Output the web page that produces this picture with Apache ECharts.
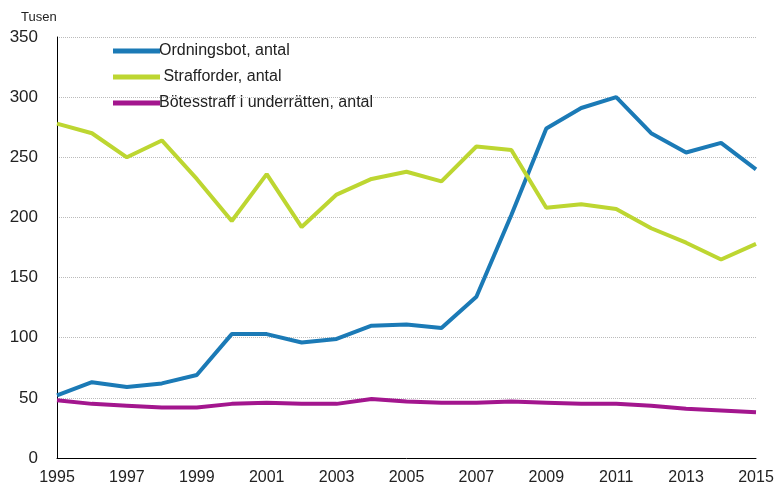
<!DOCTYPE html>
<html><head><meta charset="utf-8">
<script src="https://cdn.jsdelivr.net/npm/echarts@6/dist/echarts.min.js"></script>
<style>html,body{margin:0;padding:0;background:#fff}#c{width:779px;height:491px}</style>
</head><body><div id="c"></div>
<script>
var years = ['1995','1996','1997','1998','1999','2000','2001','2002','2003','2004','2005','2006','2007','2008','2009','2010','2011','2012','2013','2014','2015'];
var ordningsbot = [52,63,59,62,69,103,103,96,99,110,111,108,134,202,274,291,300,270,254,262,240];
var strafforder = [278,270,250,264,232,197,236,192,219,232,238,230,259,256,208,211,207,191,179,165,178];
var botesstraff = [48,45,43.5,42,42,45,46,45,45,49,47,46,46,47,46,45,45,43.5,41,39.5,38];
var names = ['Ordningsbot, antal', ' Strafforder, antal', 'Bötesstraff i underrätten, antal'];
var colors = ['#1b7ab6', '#bdd631', '#a3168e'];
var yTicks = {min: 0, max: 350, interval: 50};
var chart = echarts.init(document.getElementById('c'));
var font = 'Liberation Sans, Arial, sans-serif';
function mk(name, data, color) {
  return {name: name, type: 'line', data: data, symbol: 'none', smooth: false,
    lineStyle: {width: 4, color: color}, itemStyle: {color: color}};
}
chart.setOption({
  animation: false,
  color: colors,
  graphic: [{type: 'text', left: 21, top: 11, style: {text: 'Tusen', font: '13px ' + font, fill: '#222'}}],
  legend: {
    orient: 'vertical', left: 108, top: 37, icon: 'rect', itemWidth: 47, itemHeight: 5, itemGap: 8,
    textStyle: {fontFamily: font, fontSize: 16, color: '#222', lineHeight: 18, padding: [0,0,0,-6]},
    data: names
  },
  grid: {left: 57, right: 23, top: 37, bottom: 33, containLabel: false},
  xAxis: {
    type: 'category', data: years, boundaryGap: false,
    axisLine: {lineStyle: {color: '#000', width: 1}},
    axisTick: {show: false},
    axisLabel: {interval: 1, color: '#222', fontFamily: font, fontSize: 16, margin: 12, showMaxLabel: true},
    splitLine: {show: false}
  },
  yAxis: {
    type: 'value', min: yTicks.min, max: yTicks.max, interval: yTicks.interval,
    axisLine: {show: true, lineStyle: {color: '#000', width: 1}},
    axisTick: {show: false},
    axisLabel: {color: '#222', fontFamily: font, fontSize: 17, margin: 19},
    splitLine: {show: true, lineStyle: {color: '#bbb', type: 'dotted', width: 1}}
  },
  series: [mk(names[0], ordningsbot, colors[0]), mk(names[1], strafforder, colors[1]), mk(names[2], botesstraff, colors[2])]
});
</script></body></html>
